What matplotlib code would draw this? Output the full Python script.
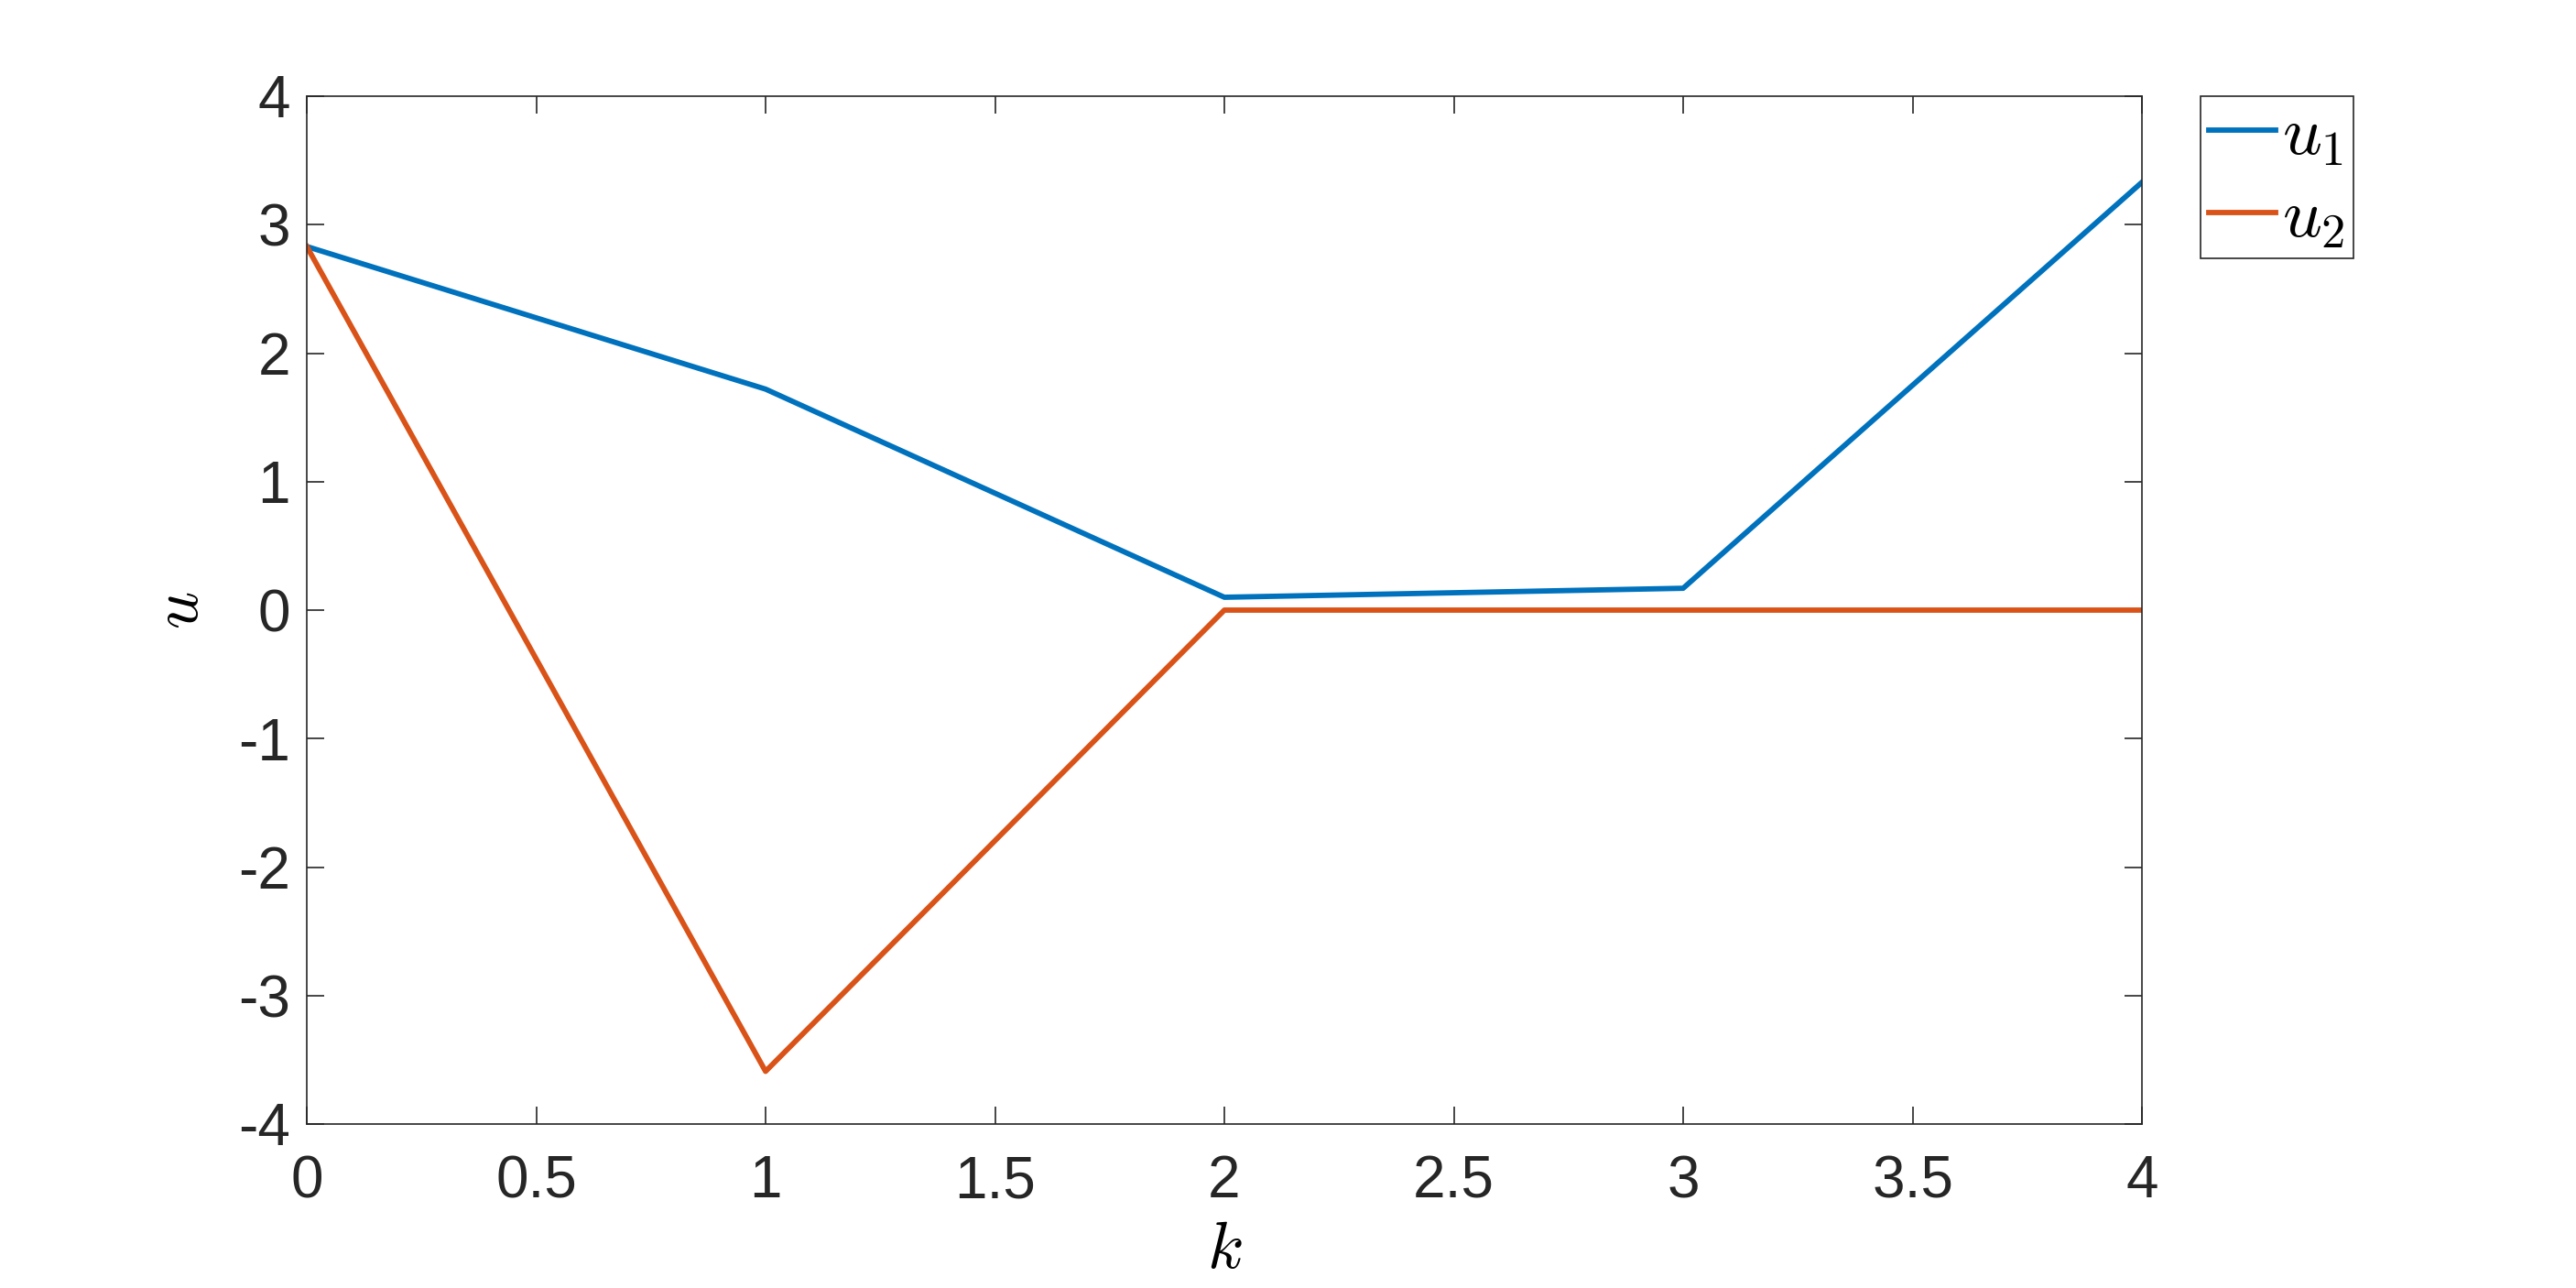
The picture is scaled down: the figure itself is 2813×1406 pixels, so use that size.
import numpy as np
import matplotlib
matplotlib.use('Agg')
import matplotlib.pyplot as plt

# data
k = [0, 1, 2, 3, 4]
u1 = [2.83, 1.72, 0.10, 0.17, 3.33]
u2 = [2.83, -3.59, 0.0, 0.0, 0.0]

xticks = [0, 0.5, 1, 1.5, 2, 2.5, 3, 3.5, 4]
yticks = [-4, -3, -2, -1, 0, 1, 2, 3, 4]

plt.rcParams['font.family'] = ['Liberation Sans', 'DejaVu Sans']
plt.rcParams['mathtext.fontset'] = 'cm'

W, H, dpi = 2813, 1406, 200
fig = plt.figure(figsize=(W / dpi, H / dpi), dpi=dpi)
ax = fig.add_axes([335 / W, 1 - 1227 / H, (2339 - 335) / W, (1227 - 105) / H])

blue = (0, 0.447, 0.741)
red = (0.85, 0.325, 0.098)
ax.plot(k, u1, color=blue, lw=2.1, label=r'$u_1$')
ax.plot(k, u2, color=red, lw=2.1, label=r'$u_2$')

ax.set_xlim(0, 4)
ax.set_ylim(-4, 4)
ax.set_xticks(xticks)
ax.set_xticklabels([('%g' % t) for t in xticks])
ax.set_yticks(yticks)
ax.set_yticklabels([('%g' % t) for t in yticks])

dark = (0.15, 0.15, 0.15)
ax.tick_params(direction='in', length=7, width=0.6, top=True, right=True,
               labelsize=23, colors=dark)
ax.tick_params(axis='x', pad=12)
ax.tick_params(axis='y', pad=6.5)
for s in ax.spines.values():
    s.set_linewidth(0.6)
    s.set_color(dark)

ax.set_xlabel(r'$k$', fontsize=26)
ax.set_ylabel(r'$u$', fontsize=26)
ax.xaxis.set_label_coords(0.5, -0.094)
ax.yaxis.set_label_coords(-0.052, 0.5)

leg = ax.legend(loc='upper left', bbox_to_anchor=(2403 / W, 1 - 105 / H),
                bbox_transform=fig.transFigure, borderaxespad=0,
                fontsize=27, handlelength=0.97, handletextpad=0.1,
                fancybox=False, framealpha=1, borderpad=0.12, labelspacing=0.28)
leg.get_frame().set_edgecolor(dark)
leg.get_frame().set_linewidth(0.6)

fig.savefig('out.png', dpi=dpi)
